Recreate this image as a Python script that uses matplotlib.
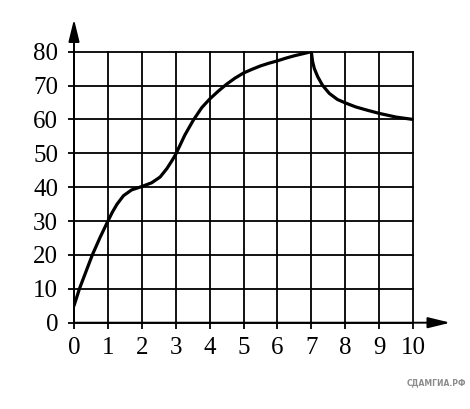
import matplotlib
matplotlib.use("Agg")
import matplotlib.pyplot as plt

plt.rcParams["font.family"] = ["Liberation Serif", "DejaVu Serif"]

# Data
x_vals = [0, 0.16, 0.35, 0.54, 0.77, 1, 1.13, 1.27, 1.46, 1.7, 2, 2.29, 2.54, 2.74, 2.9, 3,
          3.27, 3.52, 3.77, 4, 4.25, 4.5, 4.75, 5, 5.25, 5.5, 5.75, 6, 6.25, 6.5, 6.75,
          7, 7.04, 7.09, 7.19, 7.33, 7.53, 7.77, 8, 8.31, 8.66, 9, 9.5, 10]
y_vals = [5, 10, 15, 20, 25.2, 30, 32.6, 35.0, 37.5, 39.2, 40.2, 41.3, 43, 45.5, 48, 49.7,
          55.4, 59.8, 63.5, 66.0, 68.3, 70.4, 72.2, 73.7, 74.8, 75.8, 76.6, 77.3, 78.1, 78.8, 79.4,
          80, 77, 75, 72.6, 70.1, 67.7, 65.9, 64.9, 63.7, 62.7, 61.8, 60.7, 60]
x_ticks = list(range(0, 11))
y_ticks = list(range(0, 81, 10))
watermark = "СДАМГИА.РФ"

fig = plt.figure(figsize=(4.70, 4.09), dpi=100)
ax = fig.add_axes([74/470, (409-322.7)/409, 339/470, 271/409])
ax.set_xlim(0, 10)
ax.set_ylim(0, 80)
ax.set_xticks(x_ticks)
ax.set_yticks(y_ticks)
ax.set_xticklabels([str(t) for t in x_ticks], fontsize=18)
ax.set_yticklabels([str(t) for t in y_ticks], fontsize=18)
ax.tick_params(direction="out", length=4.5, width=1.3, color="black", pad=6)
ax.tick_params(axis="y", pad=7)
for s in ax.spines.values():
    s.set_visible(False)
ax.grid(True, color="black", linewidth=1.3)
for gl in ax.get_xgridlines() + ax.get_ygridlines():
    gl.set_clip_on(False)
ax.set_axisbelow(True)

ax.plot(x_vals, y_vals, color="black", linewidth=2.3, solid_joinstyle="round",
        solid_capstyle="round", zorder=3)

arrow = dict(arrowstyle="-|>,head_length=0.9,head_width=0.22", color="black", lw=1.4,
             mutation_scale=15, shrinkA=0, shrinkB=0)
ax.annotate("", xy=(0, 89.6), xytext=(0, 0), arrowprops=arrow, annotation_clip=False)
ax.annotate("", xy=(11.1, 0), xytext=(0, 0), arrowprops=arrow, annotation_clip=False)

fig.text(466/470, 1 - 383/409, watermark, ha="right", va="center", fontsize=5.5,
         color="#8c8c8c", fontweight="bold", fontfamily="DejaVu Sans")

fig.savefig("out.png", dpi=100, facecolor="white")
